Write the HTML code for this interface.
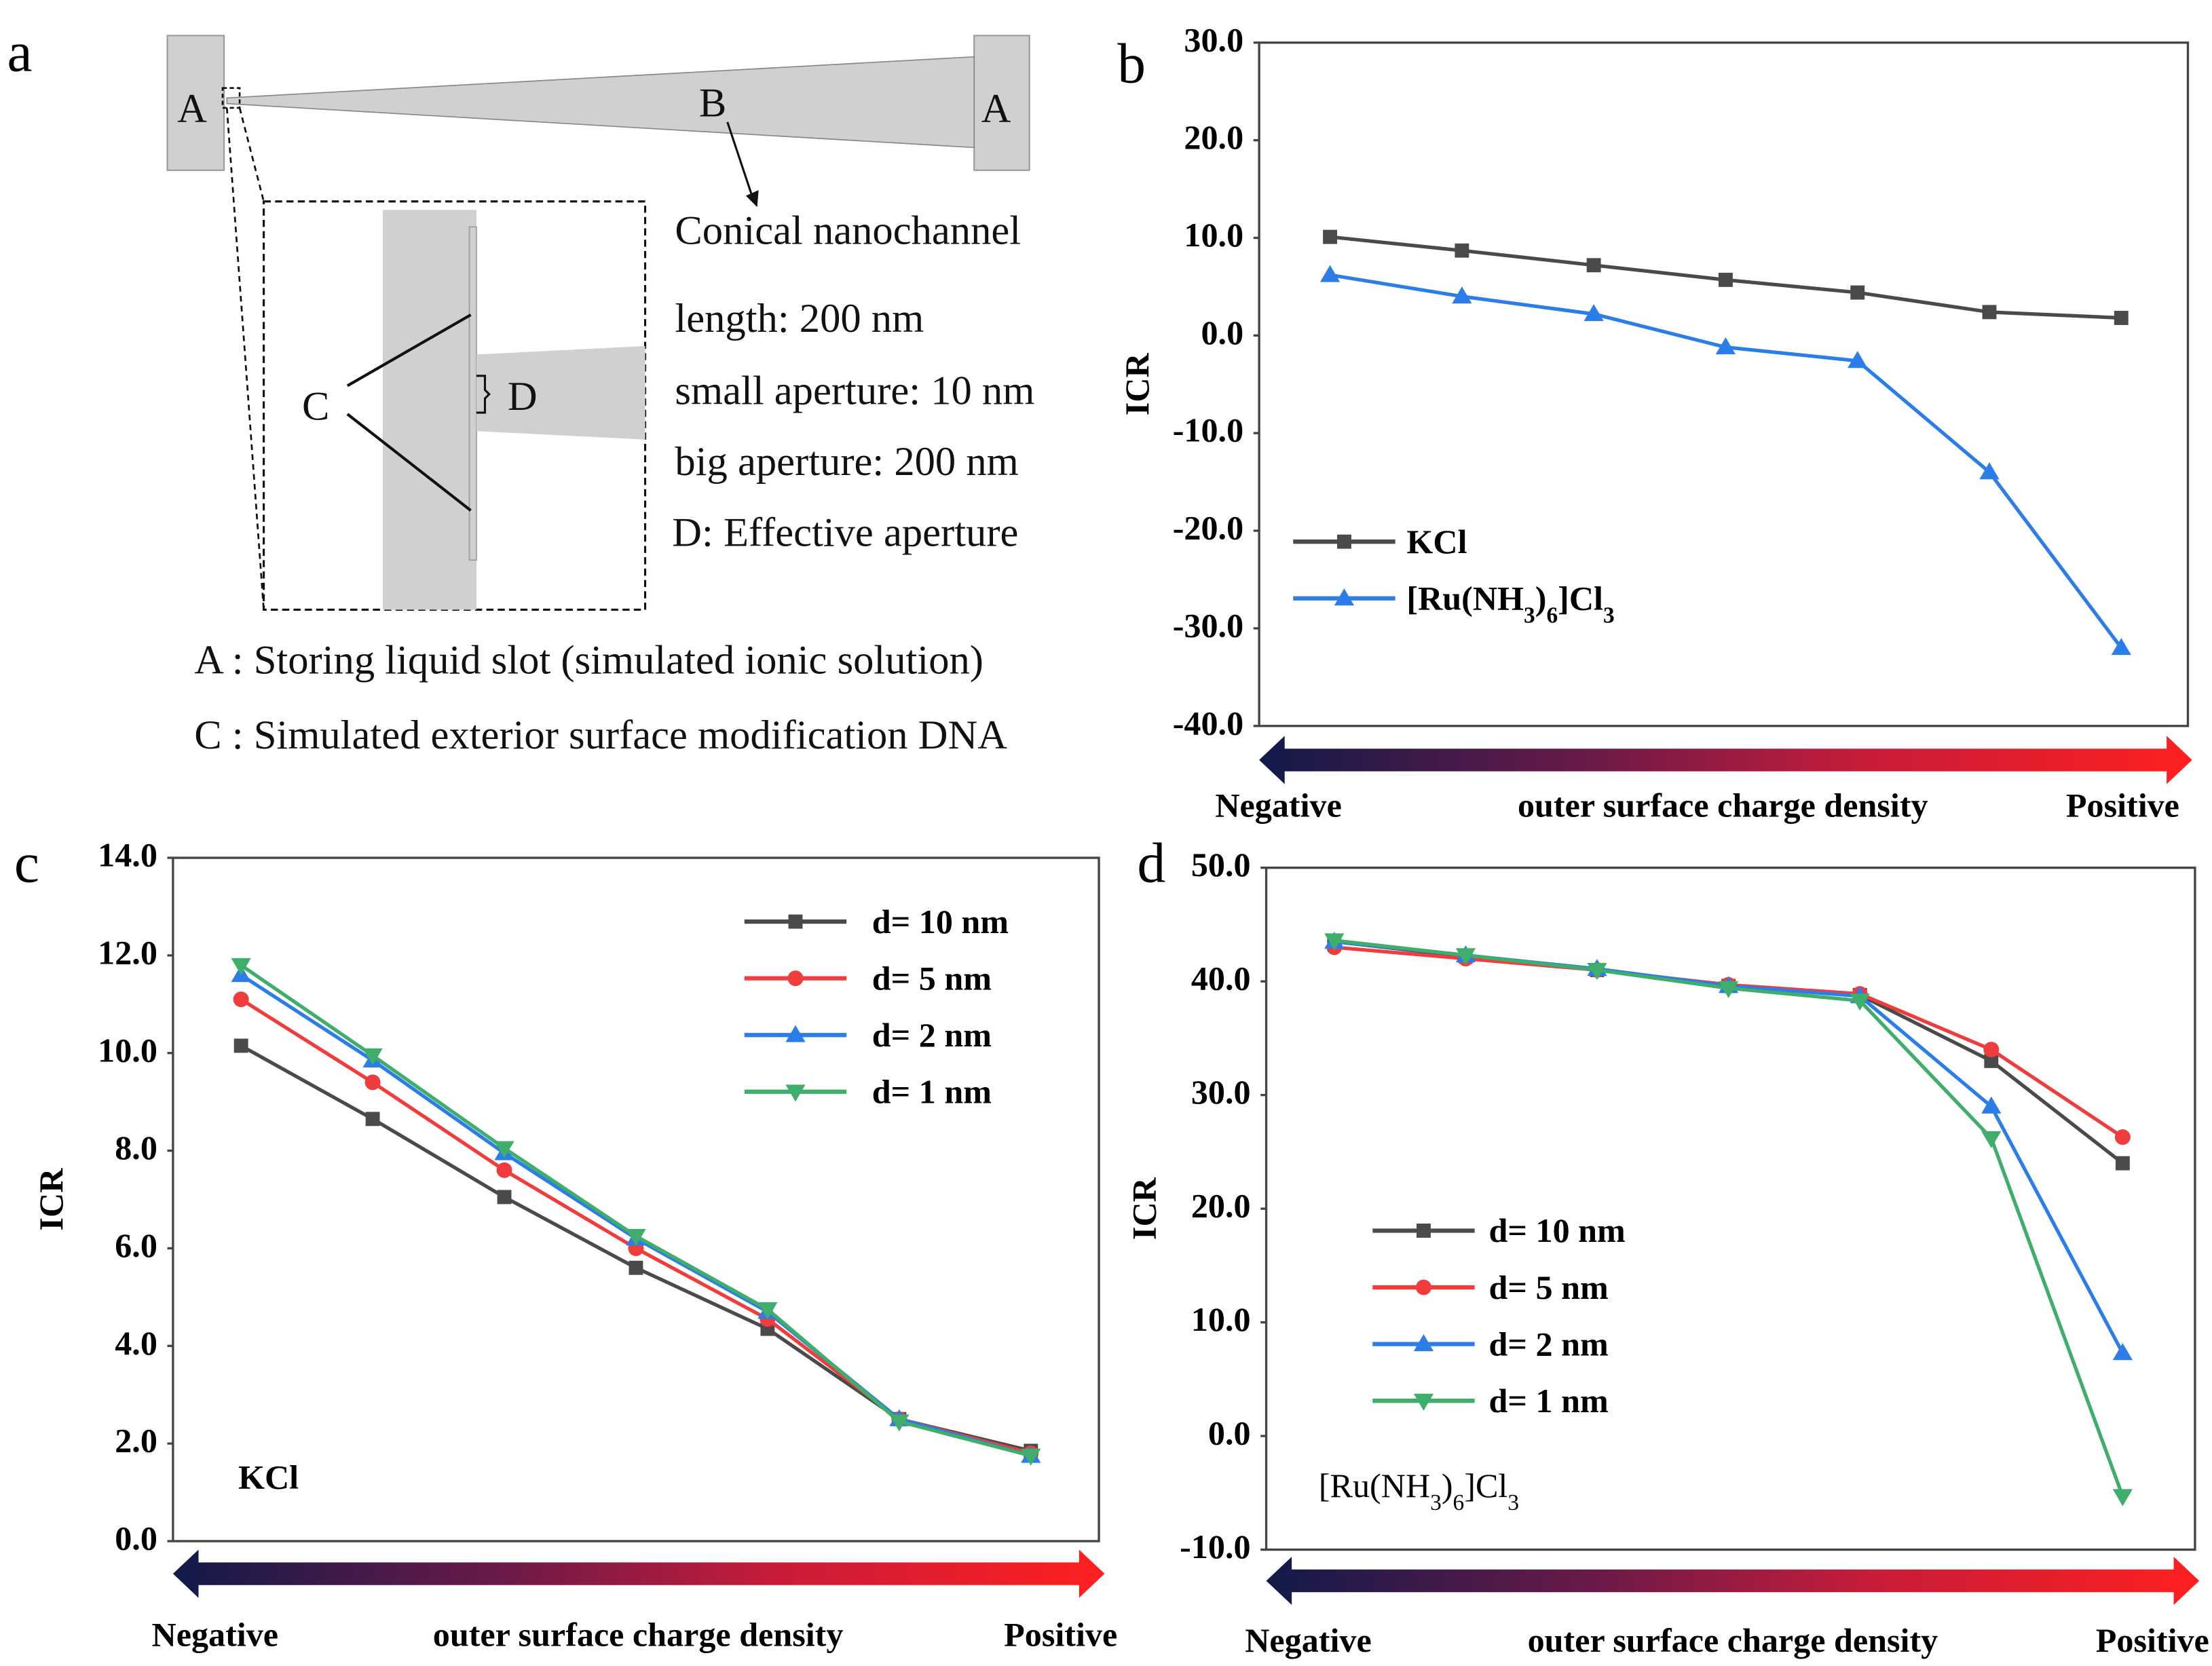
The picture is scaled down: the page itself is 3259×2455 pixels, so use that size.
<!DOCTYPE html>
<html><head><meta charset="utf-8"><style>
html,body{margin:0;padding:0;background:#fff}
svg{display:block}
text{font-family:"Liberation Serif",serif}
.tk{font-weight:bold;font-size:24px}
.lb{font-weight:bold;font-size:24px}
.dg{font-size:29px;fill:#111}
</style></head><body>
<svg id="fig" width="3259" height="2455" viewBox="0 0 1560 1175" xmlns="http://www.w3.org/2000/svg">
<defs>
<linearGradient id="grad" x1="0" x2="1" y1="0" y2="0">
<stop offset="0" stop-color="#111a4a"/><stop offset="0.35" stop-color="#6a1a48"/><stop offset="0.65" stop-color="#c81c3a"/><stop offset="1" stop-color="#ff2020"/>
</linearGradient>
</defs>
<g>
<text x="5" y="50" style="font-size:40px">a</text>
<rect x="118" y="25" width="40" height="95" fill="#d0d0d0" stroke="#999"/>
<rect x="687" y="25" width="39" height="95" fill="#d0d0d0" stroke="#999"/>
<polygon points="160,69 687,40 687,104 160,73" fill="#d0d0d0" stroke="#888" stroke-width="0.8"/>
<text x="125" y="86" class="dg">A</text>
<text x="692" y="86" class="dg">A</text>
<text x="493" y="82" class="dg">B</text>
<line x1="513" y1="86" x2="531" y2="140" stroke="#111" stroke-width="1.5"/>
<polygon points="526,138 534,146 535,134" fill="#111"/>
<rect x="157" y="62" width="12" height="14" fill="none" stroke="#111" stroke-dasharray="3,2" stroke-width="1.3"/>
<line x1="160" y1="76" x2="186" y2="430" stroke="#111" stroke-dasharray="4,3" stroke-width="1.3"/>
<line x1="169" y1="76" x2="186" y2="142" stroke="#111" stroke-dasharray="4,3" stroke-width="1.3"/>
<rect x="186" y="142" width="269" height="288" fill="none" stroke="#111" stroke-dasharray="5,3" stroke-width="1.5"/>
<rect x="270" y="148" width="66" height="282" fill="#d0d0d0"/>
<rect x="331" y="160" width="5" height="235" fill="none" stroke="#999" stroke-width="0.8"/>
<polygon points="336,250 455,244 455,310 336,304" fill="#d0d0d0"/>
<line x1="245" y1="272" x2="332" y2="222" stroke="#111" stroke-width="2"/>
<line x1="245" y1="292" x2="332" y2="360" stroke="#111" stroke-width="2"/>
<path d="M336,265 h6 v10 l3,3 l-3,3 v10 h-6" fill="none" stroke="#111" stroke-width="1.5"/>
<text x="213" y="296" class="dg">C</text>
<text x="358" y="289" class="dg">D</text>
<text x="476" y="172" class="dg">Conical nanochannel</text>
<text x="476" y="234" class="dg">length: 200 nm</text>
<text x="476" y="285" class="dg">small aperture: 10 nm</text>
<text x="476" y="335" class="dg">big aperture: 200 nm</text>
<text x="474" y="385" class="dg">D: Effective aperture</text>
<text x="137" y="475" class="dg">A : Storing liquid slot (simulated ionic solution)</text>
<text x="137" y="528" class="dg">C : Simulated exterior surface modification DNA</text>
</g>
<g id="charts"></g>
</svg>
<script>
const xCats = [1, 2, 3, 4, 5, 6, 7];
const bTicks = [30, 20, 10, 0, -10, -20, -30, -40];
const bKCl = [10.1, 8.7, 7.2, 5.7, 4.4, 2.4, 1.8];
const bRu = [6.2, 4.0, 2.2, -1.2, -2.6, -14.0, -32.0];
const cTicks = [14, 12, 10, 8, 6, 4, 2, 0];
const cD10 = [10.15, 8.65, 7.05, 5.6, 4.35, 2.5, 1.85];
const cD5 = [11.1, 9.4, 7.6, 6.0, 4.55, 2.5, 1.8];
const cD2 = [11.6, 9.85, 7.95, 6.2, 4.7, 2.5, 1.75];
const cD1 = [11.8, 9.95, 8.05, 6.25, 4.75, 2.45, 1.75];
const dTicks = [50, 40, 30, 20, 10, 0, -10];
const dD10 = [43.5, 42.2, 41.0, 39.6, 38.8, 33.0, 24.0];
const dD5 = [43.0, 42.0, 41.0, 39.7, 38.9, 34.0, 26.3];
const dD2 = [43.5, 42.3, 41.1, 39.6, 38.7, 29.0, 7.3];
const dD1 = [43.6, 42.3, 41.0, 39.4, 38.3, 26.2, -5.3];

const NS = "http://www.w3.org/2000/svg";
const root = document.getElementById('charts');
function mk(tag, attrs, parent) {
  const e = document.createElementNS(NS, tag);
  for (const k in attrs) e.setAttribute(k, attrs[k]);
  (parent || root).appendChild(e);
  return e;
}
function marker(g, shape, x, y, color) {
  let m;
  if (shape === 'sq') m = mk('rect', {x: x-5, y: y-5, width: 10, height: 10, fill: color}, g);
  else if (shape === 'ci') m = mk('circle', {cx: x, cy: y, r: 5.5, fill: color}, g);
  else if (shape === 'up') m = mk('polygon', {points: `${x},${y-7} ${x-7},${y+5} ${x+7},${y+5}`, fill: color}, g);
  else m = mk('polygon', {points: `${x},${y+7} ${x-7},${y-5} ${x+7},${y-5}`, fill: color}, g);
  
  
}
function panel(cfg) {
  const g = mk('g', {});
  
  
  const {x0, x1, y0, y1, ymin, ymax, px0, px1} = cfg;
  const ys = v => y1 - (v - ymin) / (ymax - ymin) * (y1 - y0);
  const xs = i => px0 + (i - 1) / (xCats.length - 1) * (px1 - px0);
  const frame = mk('rect', {x: x0, y: y0, width: x1 - x0, height: y1 - y0, fill: 'none', stroke: '#444', 'stroke-width': 1.6}, g);
  
  
  cfg.ticks.forEach(t => {
    const y = ys(t);
    mk('line', {x1: x0 - 4, x2: x0, y1: y, y2: y, stroke: '#444', 'stroke-width': 1.6}, g);
    const tx = mk('text', {x: x0 - 11, y: y + 6, 'text-anchor': 'end', class: 'tk'}, g);
    tx.textContent = t.toFixed(1);
    
    
  });
  const yl = mk('text', {x: 0, y: 0, class: 'lb', 'text-anchor': 'middle', transform: `translate(${cfg.ylx},${(y0 + y1) / 2}) rotate(-90)`}, g);
  yl.textContent = 'ICR';
  
  
  const pl = mk('text', {x: cfg.lx, y: cfg.ly, style: 'font-size:40px'}, g);
  pl.textContent = cfg.letter;
  
  
  cfg.series.forEach(s => {
    const pts = s.vals.map((v, i) => `${xs(xCats[i])},${ys(v)}`).join(' ');
    const ln = mk('polyline', {points: pts, fill: 'none', stroke: s.color, 'stroke-width': 2.5}, g);
    
    
    s.vals.forEach((v, i) => marker(g, s.shape, xs(xCats[i]), ys(v), s.color));
  });
  cfg.legend.forEach((l, i) => {
    const y = cfg.legY + i * cfg.legDy;
    const ll = mk('line', {x1: cfg.legX, x2: cfg.legX + 72, y1: y, y2: y, stroke: l.color, 'stroke-width': 3}, g);
    
    
    marker(g, l.shape, cfg.legX + 36, y, l.color);
    const t = mk('text', {x: cfg.legX + cfg.legTx, y: y + 8, class: 'lb'}, g);
    t.innerHTML = l.label;
    
    
  });
  if (cfg.note) {
    const t = mk('text', {x: cfg.note.x, y: cfg.note.y, class: 'lb', style: cfg.note.style || ''}, g);
    t.innerHTML = cfg.note.html;
    
    
  }
  const ay0 = cfg.ay, ah = 34, ax0 = x0, ax1 = cfg.ax1;
  const ar = mk('polygon', {points: `${ax0},${ay0 + ah / 2} ${ax0 + 18},${ay0} ${ax0 + 18},${ay0 + 9} ${ax1 - 18},${ay0 + 9} ${ax1 - 18},${ay0} ${ax1},${ay0 + ah / 2} ${ax1 - 18},${ay0 + ah} ${ax1 - 18},${ay0 + ah - 9} ${ax0 + 18},${ay0 + ah - 9} ${ax0 + 18},${ay0 + ah}`, fill: 'url(#grad)'}, g);
  
  
  const ty = cfg.ty;
  [['Negative', cfg.negX, 'start', 'negative-label'], ['outer surface charge density', cfg.midX, 'middle', 'x-axis-title'], ['Positive', cfg.posX, 'end', 'positive-label']].forEach(a => {
    const t = mk('text', {x: a[1], y: ty, 'text-anchor': a[2], class: 'lb'}, g);
    t.textContent = a[0];
    
    
  });
}
const G = '#4a4a4a', R = '#f03c3c', B = '#2b7de8', Gr = '#3fae6a';
const ru = '[Ru(NH<tspan baseline-shift="sub" font-size="16">3</tspan>)<tspan baseline-shift="sub" font-size="16">6</tspan>]Cl<tspan baseline-shift="sub" font-size="16">3</tspan>';
const dLeg = [
  {label: 'd= 10 nm', color: G, shape: 'sq'},
  {label: 'd= 5 nm', color: R, shape: 'ci'},
  {label: 'd= 2 nm', color: B, shape: 'up'},
  {label: 'd= 1 nm', color: Gr, shape: 'dn'}];
panel({name: 'panel-b-chart', letter: 'b', lx: 788, ly: 58, x0: 888, x1: 1543, y0: 30, y1: 512, ymin: -40, ymax: 30, px0: 938, px1: 1496,
  ticks: bTicks, ylx: 810,
  series: [{vals: bKCl, color: G, shape: 'sq'}, {vals: bRu, color: B, shape: 'up'}],
  legend: [{label: 'KCl', color: G, shape: 'sq'}, {label: ru, color: B, shape: 'up'}], legX: 912, legY: 382, legDy: 40, legTx: 80,
  ay: 519, ax1: 1546, ty: 576, midX: 1215, negX: 857, posX: 1537});
panel({name: 'panel-c-chart', letter: 'c', lx: 10, ly: 622, x0: 122, x1: 775, y0: 605, y1: 1087, ymin: 0, ymax: 14, px0: 170, px1: 727,
  ticks: cTicks, ylx: 44,
  series: [{vals: cD10, color: G, shape: 'sq'}, {vals: cD5, color: R, shape: 'ci'}, {vals: cD2, color: B, shape: 'up'}, {vals: cD1, color: Gr, shape: 'dn'}],
  legend: dLeg, legX: 525, legY: 650, legDy: 40, legTx: 90,
  note: {x: 168, y: 1050, html: 'KCl'},
  ay: 1093, ax1: 779, ty: 1161, midX: 450, negX: 107, posX: 788});
panel({name: 'panel-d-chart', letter: 'd', lx: 802, ly: 622, x0: 893, x1: 1548, y0: 612, y1: 1093, ymin: -10, ymax: 50, px0: 941, px1: 1497,
  ticks: dTicks, ylx: 815,
  series: [{vals: dD10, color: G, shape: 'sq'}, {vals: dD5, color: R, shape: 'ci'}, {vals: dD2, color: B, shape: 'up'}, {vals: dD1, color: Gr, shape: 'dn'}],
  legend: dLeg, legX: 968, legY: 868, legDy: 40, legTx: 82,
  note: {x: 930, y: 1056, html: ru, style: 'font-weight:normal'},
  ay: 1098, ax1: 1551, ty: 1165, midX: 1222, negX: 878, posX: 1558});
</script>
</body></html>
